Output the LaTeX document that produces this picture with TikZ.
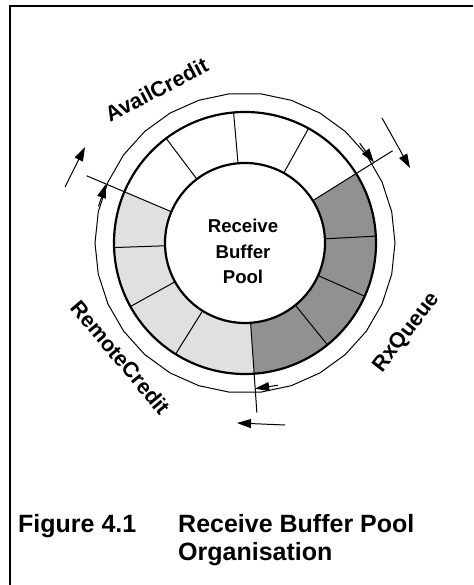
\documentclass[tikz,border=0pt]{standalone}
\usepackage{fontspec}
\setmainfont{Liberation Sans}
\usetikzlibrary{arrows.meta,positioning}

\definecolor{queuegray}{gray}{0.57}
\definecolor{creditgray}{gray}{0.88}

\tikzset{
  ringline/.style={line width=2.2pt},
  cellline/.style={line width=1pt},
  flow/.style={line width=1pt,-{Triangle[length=14pt,width=9pt]}},
  ringtext/.style={font=\fontsize{21.5}{24}\selectfont\bfseries,inner sep=0pt},
  captext/.style={font=\fontsize{25}{28}\selectfont\bfseries,inner sep=0pt}
}

\begin{document}
\begin{tikzpicture}[x=1pt,y=1pt]
  \useasboundingbox (0,0) rectangle (473,585);
  \draw[line width=2pt] (10,0) -- (10,579) -- (473,579);

  \begin{scope}[shift={(245,342)}]
    \coordinate (c) at (0,0);
    % queue and credit cells
    \fill[queuegray] (32:80) arc[start angle=32,end angle=-86,radius=80]
      -- (-86:131) arc[start angle=-86,end angle=32,radius=131] -- cycle;
    \fill[creditgray] (-86:80) arc[start angle=-86,end angle=-203,radius=80]
      -- (-203:131) arc[start angle=-203,end angle=-86,radius=131] -- cycle;
    \foreach \a in {3,-24,-51,-122,-151,-178,127,95,61}
      \draw[cellline] (\a:80) -- (\a:131);
    \draw[ringline] (c) circle[radius=80];
    \draw[ringline] (c) circle[radius=131];
    \draw[cellline] plot[samples=31,domain=0:360] (\x:150);

    % pointers
    \coordinate (rxin) at (32:80);      \coordinate (rxout) at (32:174);
    \coordinate (remin) at (-86:80);    \coordinate (remout) at (-86:170);
    \coordinate (avin) at (157:80);     \coordinate (avout) at (157:172);
    \draw[cellline] (rxin) -- (rxout);
    \draw[cellline] (remin) -- (remout);
    \draw[cellline] (avin) -- (avout);
    \coordinate (rxtip) at (32:152);    \coordinate (rxtail) at (41:152);
    \coordinate (remtip) at (-86:146);  \coordinate (remtail) at (-77:146);
    \coordinate (avtip) at (157:151);   \coordinate (avtail) at (166:151);
    \draw[flow] (rxtail) -- (rxtip);
    \draw[flow] (remtail) -- (remtip);
    \draw[flow] (avtail) -- (avtip);

    % direction arrows
    \coordinate (rxa) at (137,125);     \coordinate (rxb) at (165,75);
    \coordinate (rema) at (40,-182);    \coordinate (remb) at (-8,-180);
    \coordinate (ava) at (-180,56);     \coordinate (avb) at (-160,96);
    \draw[flow] (rxa) -- (rxb);
    \draw[flow] (rema) -- (remb);
    \draw[flow] (ava) -- (avb);

    \node[ringtext,rotate=27.5] (avail) at (120:177) {AvailCredit};
    \node[ringtext,rotate=-50] (remote) at (-137.4:169) {RemoteCredit};
    \node[ringtext,rotate=52] (rxqueue) at (-29:185) {RxQueue};
    \node[font=\fontsize{18.6}{25.5}\selectfont\bfseries,align=center,inner sep=0pt]
      (pool) at (-2,-8.5) {Receive\\Buffer\\Pool};
  \end{scope}

  \node[captext,anchor=base west] (fignum) at (18,52) {Figure 4.1};
  \node[captext,anchor=base west] (figtitle) at (178,52) {Receive Buffer Pool};
  \node[captext,anchor=base west] (orgline) at ([yshift=-28pt]figtitle.base west) {Organisation};
\end{tikzpicture}
\end{document}
